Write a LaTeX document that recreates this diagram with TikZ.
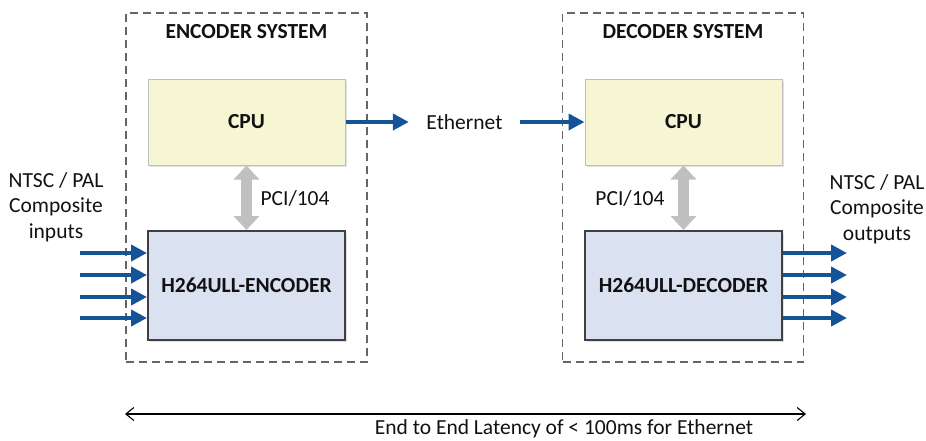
\documentclass[tikz,border=0pt]{standalone}
\usepackage{fontspec}
\setmainfont{Carlito}
\usetikzlibrary{arrows.meta,shadows}
\definecolor{cpufill}{HTML}{F7F6D3}
\definecolor{cpuline}{HTML}{BFBFBF}
\definecolor{codfill}{HTML}{DAE2F2}
\definecolor{codline}{HTML}{404040}
\definecolor{sigblue}{HTML}{155398}
\definecolor{busgray}{HTML}{C0C0C0}
\definecolor{dashgray}{HTML}{666666}
\definecolor{txt}{HTML}{111111}
\tikzset{
  sysbox/.style={draw=dashgray, line width=1.3pt, dash pattern=on 8pt off 5pt, minimum width=241pt, minimum height=349pt, inner sep=0pt},
  cpubox/.style={draw=cpuline, line width=1pt, fill=cpufill, minimum width=197pt, minimum height=86pt, inner sep=0pt, font=\bfseries\fontsize{21.5}{26}\selectfont, text=txt,
    drop shadow={shadow xshift=2pt, shadow yshift=-2pt, fill=black!20, opacity=0.6}},
  codbox/.style={draw=codline, line width=2pt, fill=codfill, minimum width=197pt, minimum height=109pt, inner sep=0pt, font=\bfseries\fontsize{21.5}{26}\selectfont, text=txt,
    drop shadow={shadow xshift=2pt, shadow yshift=-2pt, fill=black!20, opacity=0.6}},
  title/.style={font=\bfseries\fontsize{21.5}{26}\selectfont, text=txt},
  lbl/.style={font=\fontsize{21.5}{25.5}\selectfont, text=txt, align=center},
  sig/.style={draw=sigblue, line width=4pt, -{Triangle[length=16pt,width=16pt]}},
  bus/.style={draw=busgray, line width=11pt, {Triangle[length=14pt,width=25pt]}-{Triangle[length=14pt,width=25pt]}},
  span/.style={draw=black, line width=1.1pt, {Straight Barb[length=8pt,width=13pt]}-{Straight Barb[length=8pt,width=13pt]}}
}
\begin{document}
\begin{tikzpicture}[x=1pt,y=-1pt]
\useasboundingbox (0,0) rectangle (926,440);
% systems
\node[sysbox] (encsys) at (246.5,187.5) {};
\node[sysbox] (decsys) at (683,187.5) {};
\node[title] (enct) at (246.5,32) {ENCODER SYSTEM};
\node[title] (dect) at (683,32) {DECODER SYSTEM};
% blocks
\node[cpubox] (cpu1) at (246.5,122) {CPU};
\node[codbox] (enc) at (246.5,285.5) {H264ULL-ENCODER};
\node[cpubox] (cpu2) at (683.5,122) {CPU};
\node[codbox] (dec) at (683.5,285.5) {H264ULL-DECODER};
% ethernet
\node[lbl, minimum width=111pt, inner sep=0pt] (eth) at (464.5,122) {Ethernet};
\draw[sig] (cpu1.east) -- (eth.west);
\draw[sig] (eth.east) -- (cpu2.west);
% buses
\draw[bus] (cpu1.south) -- (enc.north);
\draw[bus] (cpu2.south) -- (dec.north);
\node[lbl, anchor=west] (pci1) at (257,198) {PCI/104};
\node[lbl, anchor=east] (pci2) at (668,198) {PCI/104};
% inputs
\node[lbl] (inl) at (56,207) {NTSC / PAL\\Composite\\inputs};
\node[lbl] (outl) at (877,209) {NTSC / PAL\\Composite\\outputs};
\foreach \i/\y in {1/253,2/275,3/297,4/318}{
  \coordinate (in\i) at (80,\y);
  \draw[sig] (in\i) -- (in\i -| enc.west);
  \coordinate (out\i) at (847,\y);
  \draw[sig] (out\i -| dec.east) -- (out\i);
}
% latency
\coordinate (la) at (125,414);
\coordinate (lb) at (806,414);
\draw[span] (la) -- (lb);
\node[lbl, inner sep=0pt] (lat) at (564,429) {End to End Latency of < 100ms for Ethernet};
\end{tikzpicture}
\end{document}
